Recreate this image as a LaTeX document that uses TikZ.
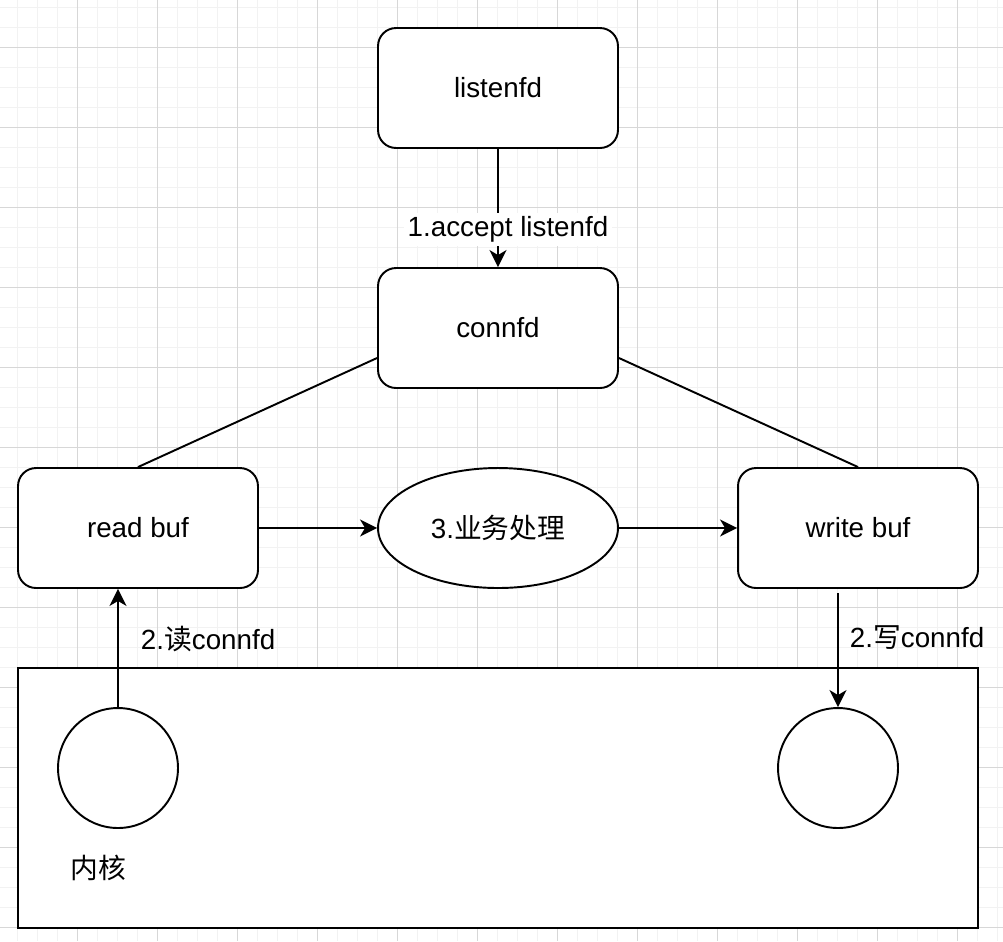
\documentclass[tikz,border=0pt]{standalone}
\usepackage{fontspec}
\setmainfont{Liberation Sans}
\newfontfamily\cjk{Noto Sans CJK SC}
\usetikzlibrary{arrows.meta,shapes.geometric}
\definecolor{gridminor}{RGB}{242,242,242}
\definecolor{gridmajor}{RGB}{215,215,215}

\begin{document}
\begin{tikzpicture}[x=0.02cm,y=-0.02cm]
        \tikzstyle{every node}+=[font=\fontsize{15.8}{19}\selectfont]
        \tikzstyle{fdbox}=[draw=black, fill=white, line width=1.1pt, rounded corners=0.36cm, minimum width=4.8cm, minimum height=2.4cm]
        \tikzstyle{taskoval}=[ellipse, draw=black, fill=white, line width=1.1pt, inner sep=0pt, minimum width=4.8cm, minimum height=2.4cm]
        \tikzstyle{kcircle}=[circle, draw=black, fill=white, line width=1.1pt, minimum size=2.4cm]
        \tikzstyle{flow}=[black, line width=1.1pt, -{Stealth[length=0.34cm,width=0.34cm,inset=0.1cm]}]
        \tikzstyle{lbl}=[inner sep=0pt]
        \useasboundingbox (0,0) rectangle (1003,941);
        % background grid
        \foreach \gx in {17,37,...,997} \draw [gridminor, line width=0.55pt] (\gx,0) -- (\gx,941);
        \foreach \gy in {7,27,...,927} \draw [gridminor, line width=0.55pt] (0,\gy) -- (1003,\gy);
        \foreach \gx in {77,157,...,957} \draw [gridmajor, line width=0.5pt] (\gx,0) -- (\gx,941);
        \foreach \gy in {47,127,...,927} \draw [gridmajor, line width=0.5pt] (0,\gy) -- (1003,\gy);
        % kernel
        \node [draw=black, fill=white, line width=1.1pt, minimum width=19.2cm, minimum height=5.2cm] (kernel) at (498,798) {};
        \node [lbl] (kname) at (98,868) {\cjk 内核};
        \node [kcircle] (kread) at (118,768) {};
        \node [kcircle] (kwrite) at (838,768) {};
        % fds and buffers
        \node [fdbox] (listenfd) at (498,88) {listenfd};
        \node [fdbox] (connfd) at (498,328) {connfd};
        \node [fdbox] (readbuf) at (138,528) {read buf};
        \node [taskoval] (task) at (498,528) {3.{\cjk 业务处理}};
        \node [fdbox] (writebuf) at (858,528) {write buf};
        % connectors
        \draw [flow] (listenfd) -- node [pos=0.68, xshift=0.2cm, fill=white, inner sep=2pt] {1.accept listenfd} (connfd);
        \draw [black, line width=1.1pt] ([yshift=-0.6cm]connfd.west) -- (readbuf.north);
        \draw [black, line width=1.1pt] ([yshift=-0.6cm]connfd.east) -- (writebuf.north);
        \draw [flow] (readbuf) -- (task);
        \draw [flow] (task) -- (writebuf);
        \draw [flow] (kread.north) -- node [lbl, pos=0.58, anchor=west, xshift=0.44cm] {2.{\cjk 读}connfd} (kread.north |- readbuf.south);
        \draw [flow] ([yshift=-0.08cm]writebuf.south -| kwrite.north) -- node [lbl, pos=0.39, anchor=west, xshift=0.22cm] {2.{\cjk 写}connfd} (kwrite.north);
\end{tikzpicture}
\end{document}
